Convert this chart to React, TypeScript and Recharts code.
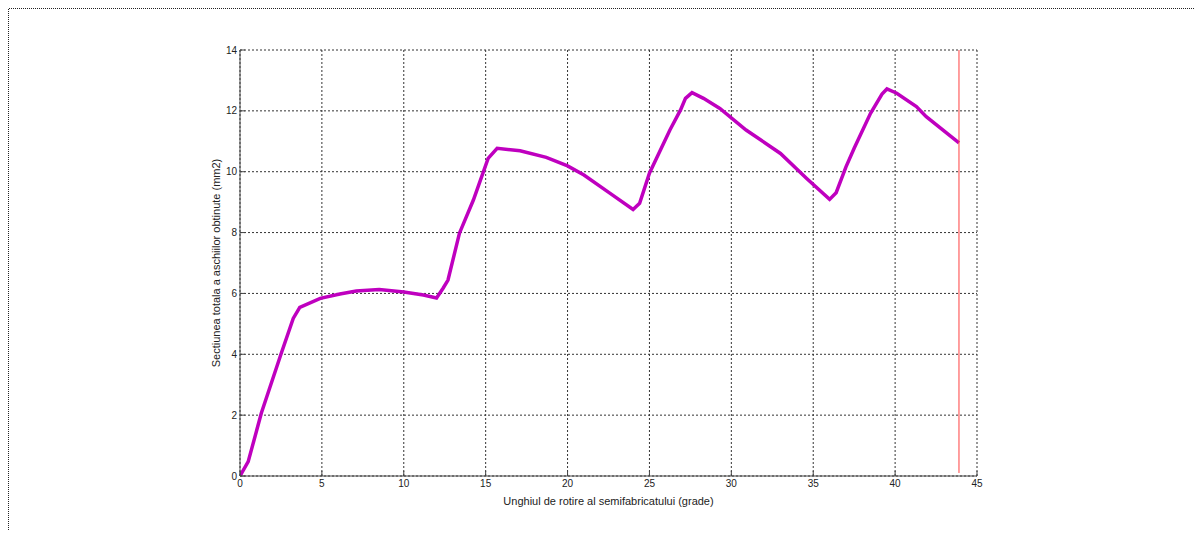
import { CartesianGrid, Customized, Line, LineChart, XAxis, YAxis } from "recharts";

// unghi de rotire (grade) si sectiunea totala a aschiilor (mm2)
const unghi = [
  0, 0.5, 1.3, 2.5, 3.25, 3.65, 4.9, 6.1, 7.1, 8.5, 10.0, 11.2, 12.0, 12.4, 12.7,
  13.4, 14.25, 15.15, 15.7, 17.1, 18.7, 20.0, 21.0, 22.6, 24.0, 24.4, 25.0, 26.25,
  26.9, 27.2, 27.6, 28.3, 29.3, 30.9, 33.0, 34.6, 36.0, 36.4, 37.0, 37.5, 38.5,
  39.2, 39.5, 40.1, 41.3, 41.9, 43.9,
];
const sectiune = [
  0, 0.47, 2.06, 4.0, 5.18, 5.54, 5.84, 5.98, 6.08, 6.13, 6.05, 5.95, 5.85, 6.17, 6.44,
  7.98, 9.07, 10.44, 10.77, 10.69, 10.47, 10.19, 9.89, 9.29, 8.76, 8.96, 9.95, 11.37,
  12.03, 12.41, 12.6, 12.41, 12.08, 11.37, 10.6, 9.78, 9.09, 9.31, 10.16, 10.77, 11.92,
  12.55, 12.72, 12.58, 12.14, 11.81, 10.95,
];

// limita verticala (rosu)
const limitaX = [43.9, 43.9];
const limitaY = [0.1, 14];

const xTicks = [0, 5, 10, 15, 20, 25, 30, 35, 40, 45];
const yTicks = [0, 2, 4, 6, 8, 10, 12, 14];

const curba = unghi.map((x, i) => ({ x, y: sectiune[i] }));
const limita = limitaX.map((x, i) => ({ x, y: limitaY[i] }));

const W = 1195;
const H = 522;

const tickStyle = { fontFamily: "Liberation Sans, Arial, sans-serif", fontSize: 10, fill: "#222" };
const labelStyle = { fontFamily: "Liberation Sans, Arial, sans-serif", fontSize: 11, fill: "#222" };

// chenar punctat al figurii, sus si in stanga
const Chenar = () => (
  <path d={`M0.5,${H} V0.5 H${W}`} fill="none" stroke="#222" strokeWidth={1} strokeDasharray="1 1" />
);

export default function App() {
  return (
    <div style={{ width: W, height: H }}>
      <LineChart width={W} height={H} margin={{ top: 42, right: 226, left: 0, bottom: 0 }}>
        <Customized component={Chenar} />
        <CartesianGrid stroke="#333" strokeDasharray="2 2" />
        <XAxis
          dataKey="x"
          type="number"
          domain={[0, 45]}
          ticks={xTicks}
          allowDataOverflow
          height={54}
          stroke="#444"
          tickSize={-5}
          tickMargin={9}
          tick={tickStyle}
          label={{ value: "Unghiul de rotire al semifabricatului (grade)", position: "insideBottom", offset: 25, style: labelStyle }}
        />
        <XAxis xAxisId="sus" orientation="top" type="number" domain={[0, 45]} ticks={xTicks} height={0} stroke="#444" tick={false} />
        <YAxis
          type="number"
          domain={[0, 14]}
          ticks={yTicks}
          allowDataOverflow
          width={232}
          stroke="#444"
          tickSize={-5}
          tickMargin={8}
          tick={tickStyle}
          label={{ value: "Sectiunea totala a aschiilor obtinute (mm2)", angle: -90, position: "insideRight", offset: 0, dx: -24, style: { ...labelStyle, textAnchor: "middle" } }}
        />
        <YAxis yAxisId="dreapta" orientation="right" type="number" domain={[0, 14]} ticks={yTicks} width={0} stroke="#444" tick={false} />
        <Line
          data={curba}
          dataKey="y"
          type="linear"
          stroke="#bf00bf"
          strokeWidth={3.5}
          dot={false}
          isAnimationActive={false}
        />
        <Line
          data={limita}
          dataKey="y"
          type="linear"
          stroke="#ff4040"
          strokeWidth={1}
          dot={false}
          isAnimationActive={false}
        />
      </LineChart>
    </div>
  );
}
